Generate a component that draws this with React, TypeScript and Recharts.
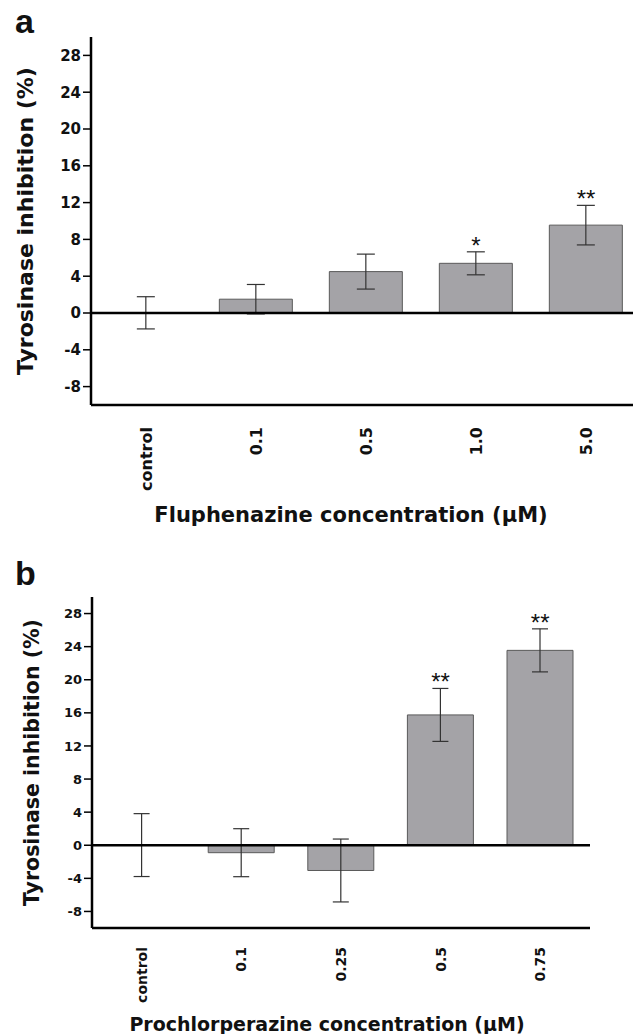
import React from "react";
import { Bar, ComposedChart, ErrorBar, Label, ReferenceLine, Scatter, XAxis, YAxis } from "recharts";

const FONT = "'DejaVu Sans', Verdana, sans-serif";
const ARIAL = "'Liberation Sans', Arial, Helvetica, sans-serif";

// panel a - fluphenazine
const fluConc = ["control", "0.1", "0.5", "1.0", "5.0"];
const fluMean = [0.02, 1.5, 4.5, 5.4, 9.55];
const fluErr = [1.75, 1.6, 1.9, 1.25, 2.15];
const fluSig = ["", "", "", "*", "**"];

// panel b - prochlorperazine
const proConc = ["control", "0.1", "0.25", "0.5", "0.75"];
const proMean = [0.02, -0.9, -3.05, 15.75, 23.55];
const proErr = [3.8, 2.9, 3.8, 3.2, 2.6];
const proSig = ["", "", "", "**", "**"];

const yTicks = [-8, -4, 0, 4, 8, 12, 16, 20, 24, 28];

const buildRows = (conc: string[], mean: number[], err: number[], sig: string[]) =>
  conc.map((c, i) => ({
    conc: c,
    mean: mean[i],
    err: err[i],
    sig: sig[i],
    starY: sig[i] ? mean[i] + err[i] : null,
  }));

const fluRows = buildRows(fluConc, fluMean, fluErr, fluSig);
const proRows = buildRows(proConc, proMean, proErr, proSig);

type PanelProps = {
  rows: any[];
  width: number;
  height: number;
  margin: { top: number; right: number; bottom: number; left: number };
  yAxisWidth: number;
  xAxisHeight: number;
  xTitle: string;
  xTitleSize: number;
  xTitleOffset: number;
  xTitleDx: number;
  yTitleSize: number;
  yTitleOffset: number;
  tickSize: number;
  xTickSize: number;
  xTickGap: number;
  capWidth: number;
};

function Panel(p: PanelProps) {
  const rotTick = (t: any) => (
    <text
      transform={`translate(${t.x},${t.y + p.xTickGap}) rotate(-90)`}
      textAnchor="end"
      dominantBaseline="central"
      fontSize={p.xTickSize}
      fontWeight="bold"
      fill="#111"
      fontFamily={FONT}
    >
      {t.payload.value}
    </text>
  );

  // significance stars sit just above the error bar cap
  const starShape = (s: any) =>
    s.payload && s.payload.sig ? (
      <text x={s.cx} y={s.cy + 2} textAnchor="middle" fontSize={24} fill="#111" fontFamily={ARIAL}>
        {s.payload.sig}
      </text>
    ) : (
      <g />
    );

  return (
    <ComposedChart width={p.width} height={p.height} data={p.rows} margin={p.margin} barCategoryGap="16.67%">
      <XAxis
        dataKey="conc"
        height={p.xAxisHeight}
        axisLine={{ stroke: "#000", strokeWidth: 2.5 }}
        tickLine={false}
        tickSize={0}
        tickMargin={0}
        interval={0}
        tick={rotTick}
      >
        <Label
          value={p.xTitle}
          position="insideBottom"
          offset={p.xTitleOffset}
          dx={p.xTitleDx}
          fill="#111"
          style={{ fontSize: p.xTitleSize, fontWeight: "bold", fill: "#111", fontFamily: FONT }}
        />
      </XAxis>
      <YAxis
        width={p.yAxisWidth}
        domain={[-10, 30]}
        ticks={yTicks}
        interval={0}
        allowDataOverflow
        axisLine={{ stroke: "#000", strokeWidth: 2.5 }}
        tickLine={{ stroke: "#000", strokeWidth: 1.5 }}
        tickSize={8}
        tickMargin={2}
        tick={{ fontSize: p.tickSize, fontWeight: "bold", fill: "#111", fontFamily: FONT }}
      >
        <Label
          value="Tyrosinase inhibition (%)"
          angle={-90}
          position="insideLeft"
          offset={p.yTitleOffset}
          fill="#111"
          style={{ textAnchor: "middle", fontSize: p.yTitleSize, fontWeight: "bold", fill: "#111", fontFamily: FONT }}
        />
      </YAxis>
      <Bar dataKey="mean" fill="#a4a3a7" stroke="#5a5a5a" strokeWidth={1} isAnimationActive={false}>
        <ErrorBar dataKey="err" width={p.capWidth} stroke="#333" strokeWidth={1.2} />
      </Bar>
      <ReferenceLine y={0} stroke="#000" strokeWidth={2.5} />
      <Scatter dataKey="starY" shape={starShape} isAnimationActive={false} />
    </ComposedChart>
  );
}

const letterStyle: React.CSSProperties = {
  position: "absolute",
  left: 15,
  fontFamily: ARIAL,
  fontWeight: "bold",
  fontSize: 34,
  lineHeight: "34px",
  color: "#111",
};

export default function App() {
  return (
    <div
      style={{
        position: "fixed",
        left: 0,
        top: 0,
        width: 633,
        height: 1034,
        overflow: "hidden",
        background: "#fff",
      }}
    >
      <div style={{ ...letterStyle, top: 4 }}>a</div>
      <div style={{ position: "absolute", left: 0, top: 0 }}>
        <Panel
          rows={fluRows}
          width={660}
          height={540}
          margin={{ top: 37, right: 19, bottom: 10, left: 0 }}
          yAxisWidth={91}
          xAxisHeight={125}
          xTitle="Fluphenazine concentration (μM)"
          xTitleSize={21}
          xTitleOffset={8}
          xTitleDx={-15}
          yTitleSize={22}
          yTitleOffset={25}
          tickSize={15}
          xTickSize={16}
          xTickGap={22}
          capWidth={9}
        />
      </div>
      <div style={{ ...letterStyle, top: 556 }}>b</div>
      <div style={{ position: "absolute", left: 0, top: 556 }}>
        <Panel
          rows={proRows}
          width={633}
          height={478}
          margin={{ top: 41, right: 43, bottom: 0, left: 0 }}
          yAxisWidth={92}
          xAxisHeight={106}
          xTitle="Prochlorperazine concentration (μM)"
          xTitleSize={19}
          xTitleOffset={3}
          xTitleDx={-14}
          yTitleSize={20.5}
          yTitleOffset={32}
          tickSize={13}
          xTickSize={14}
          xTickGap={19}
          capWidth={8}
        />
      </div>
    </div>
  );
}
